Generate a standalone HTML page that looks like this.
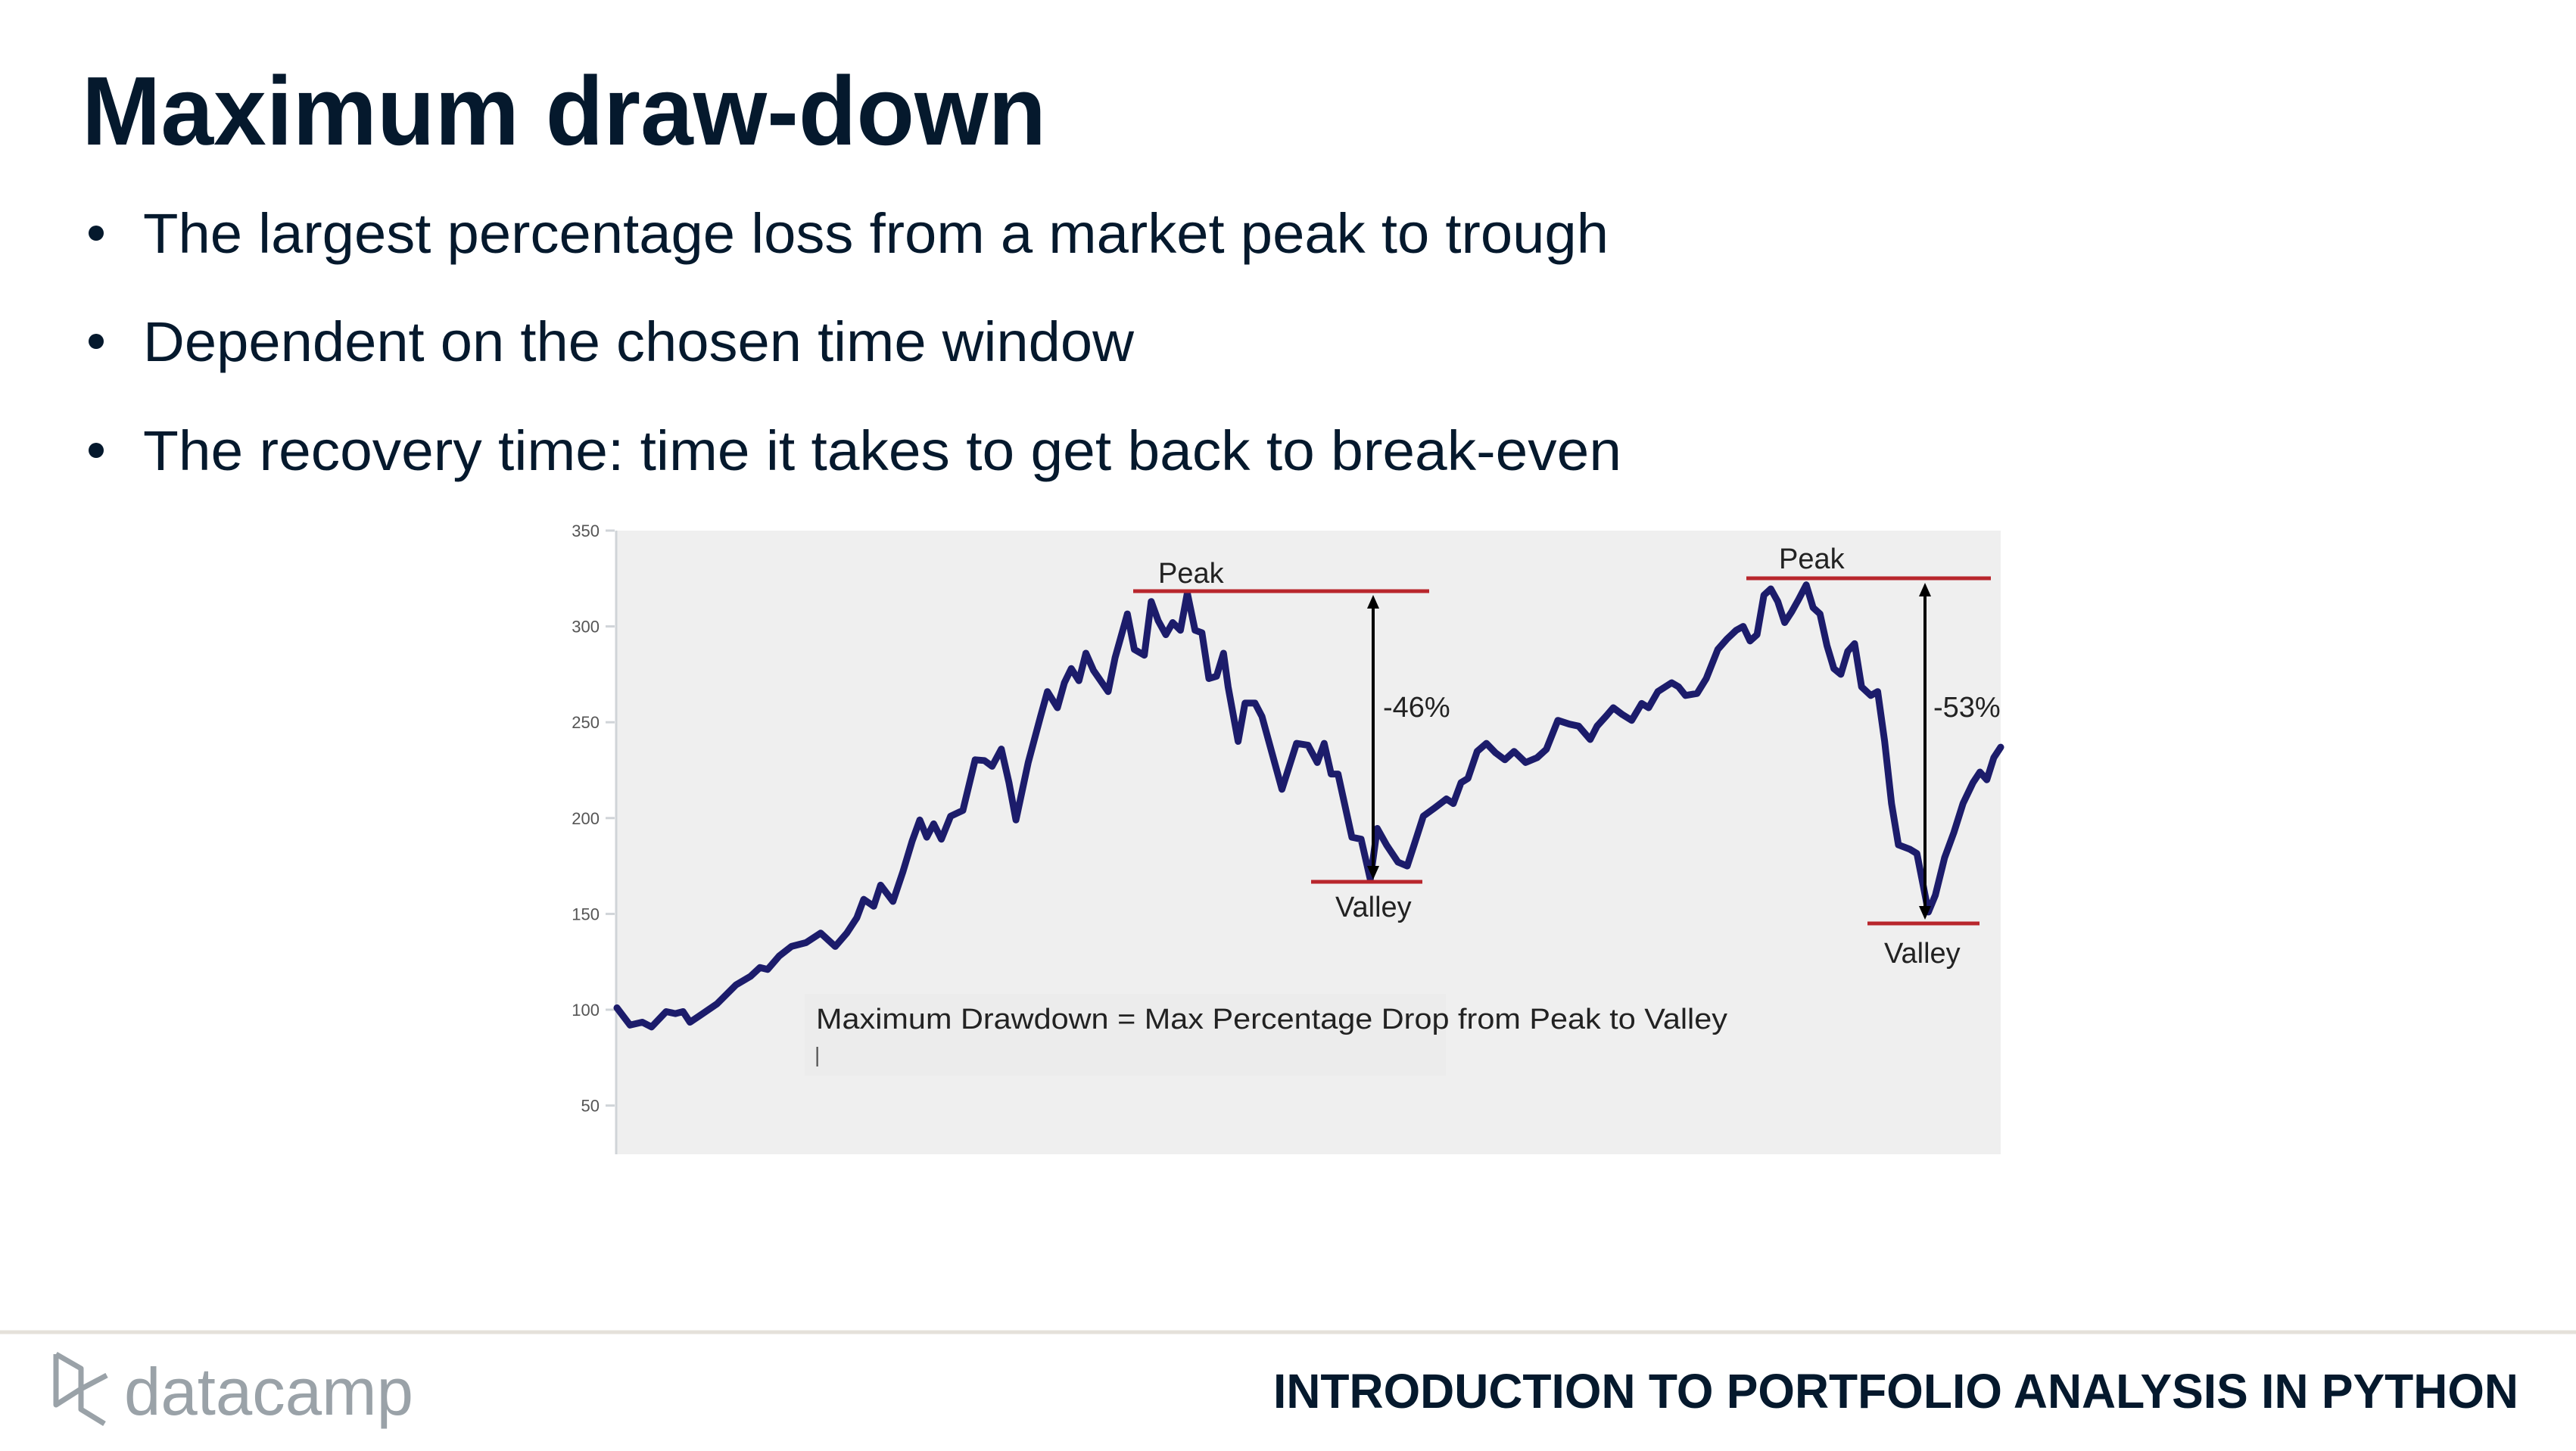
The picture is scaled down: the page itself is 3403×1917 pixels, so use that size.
<!DOCTYPE html>
<html><head><meta charset="utf-8"><style>
html,body{margin:0;padding:0;background:#fff}
svg{display:block}
</style></head><body>
<svg id="slide" width="3403" height="1917" viewBox="0 0 3403 1917" xmlns="http://www.w3.org/2000/svg" font-family="Liberation Sans, Arial, sans-serif">
<rect x="0" y="0" width="3403" height="1917" fill="#ffffff"/>
<text x="108" y="191" font-size="129" font-weight="bold" fill="#05192d" textLength="1274" lengthAdjust="spacingAndGlyphs">Maximum draw-down</text>
<g fill="#05192d" font-size="74">
<circle cx="127" cy="308" r="10"/>
<text x="189" y="334" textLength="1936" lengthAdjust="spacingAndGlyphs">The largest percentage loss from a market peak to trough</text>
<circle cx="127" cy="451" r="10"/>
<text x="189" y="477" textLength="1309" lengthAdjust="spacingAndGlyphs">Dependent on the chosen time window</text>
<circle cx="127" cy="595" r="10"/>
<text x="189" y="621" textLength="1953" lengthAdjust="spacingAndGlyphs">The recovery time: time it takes to get back to break-even</text>
</g>
<g id="chart">
<rect x="814" y="701" width="1829" height="824" fill="#efefef"/>
<rect x="1063" y="1313" width="847" height="108" fill="#ececec"/>
<line x1="814" y1="701" x2="814" y2="1525" stroke="#d0d4d8" stroke-width="3"/>
<g id="yticks"></g>
<polyline id="series" fill="none" stroke="#1c1c6b" stroke-width="9" stroke-linejoin="round" stroke-linecap="round"/>
<g font-size="38" fill="#222">
<line x1="1497" y1="781" x2="1888" y2="781" stroke="#b8262c" stroke-width="5"/>
<line x1="1732" y1="1165" x2="1879" y2="1165" stroke="#b8262c" stroke-width="5"/>
<line x1="1814" y1="800" x2="1814" y2="1148" stroke="#000" stroke-width="4"/>
<polygon points="1814,786 1806,804 1822,804" fill="#000"/>
<polygon points="1814,1162 1806,1144 1822,1144" fill="#000"/>
<text x="1530" y="770">Peak</text>
<text x="1764" y="1211">Valley</text>
<text x="1827" y="947">-46%</text>
<line x1="2307" y1="764" x2="2630" y2="764" stroke="#b8262c" stroke-width="5"/>
<line x1="2467" y1="1220" x2="2615" y2="1220" stroke="#b8262c" stroke-width="5"/>
<line x1="2543" y1="785" x2="2543" y2="1200" stroke="#000" stroke-width="4"/>
<polygon points="2543,770 2535,788 2551,788" fill="#000"/>
<polygon points="2543,1215 2535,1197 2551,1197" fill="#000"/>
<text x="2350" y="751">Peak</text>
<text x="2489" y="1272">Valley</text>
<text x="2554" y="947">-53%</text>
<text x="1078" y="1359" textLength="1204" lengthAdjust="spacingAndGlyphs">Maximum Drawdown = Max Percentage Drop from Peak to Valley</text>
<text x="1076" y="1403" font-size="28" fill="#555">|</text>
</g>
</g>
<line x1="0" y1="1760" x2="3403" y2="1760" stroke="#e5e1da" stroke-width="5"/>
<g>
<path d="M74,1789 L74,1856 L107,1835 M74,1789 L107,1808 L107,1862 L138,1881 M107,1835 L141,1817" fill="none" stroke="#9aa2a8" stroke-width="7" stroke-linejoin="round"/>
<text x="164" y="1869" font-size="88" fill="#9aa2a8" textLength="382" lengthAdjust="spacingAndGlyphs">datacamp</text>
</g>
<text x="1682" y="1860" font-size="64" font-weight="bold" fill="#05192d" textLength="1645" lengthAdjust="spacingAndGlyphs">INTRODUCTION TO PORTFOLIO ANALYSIS IN PYTHON</text>
</svg>
<script>
const months = [0,1.7,3.3,4.5,6.4,7.6,8.6,9.5,10.8,13.0,15.5,17.4,18.6,19.6,21.1,22.7,24.6,26.5,28.4,29.9,31.2,32.1,33.4,34.3,35.9,37.2,38.4,39.4,40.3,41.2,42.2,43.4,45.0,46.6,47.8,48.8,50.0,51.0,51.9,53.5,55.1,56.0,57.3,58.2,59.1,60.1,61.0,62.0,63.9,64.8,66.4,67.3,68.6,69.5,70.4,71.4,72.3,73.3,74.2,75.2,76.1,77.0,78.0,78.9,79.5,80.8,81.7,83.0,83.9,85.2,86.5,88.4,89.9,91.1,92.0,92.9,93.8,95.6,96.8,98.0,98.9,100.1,101.6,102.8,103.7,104.9,106.4,107.9,108.8,109.8,110.7,111.9,113.1,114.3,115.5,116.7,118.2,119.7,120.9,122.4,123.9,125.1,126.6,127.5,128.7,129.6,130.8,132.0,133.3,134.2,135.4,137.2,138.1,139.0,140.5,141.7,143.2,144.4,145.6,146.5,147.4,148.3,149.2,150.1,151.0,151.9,152.8,153.7,154.7,155.6,156.5,157.4,158.3,159.2,160.1,161.0,161.9,163.1,164.0,164.9,165.8,166.7,168.2,169.1,170.6,171.5,172.7,173.9,175.1,176.4,177.3,178.2,179.1,180];
const values = [101,92,93.5,91,99,98,99,93.5,97,103,113,117.5,122,121,128,133,135,140,133,140,148,157.6,154,165,156.5,172,188,199,190,197,189,201,204,230.4,230,227,236,218.5,199,229,253,266,257.6,270.6,278,271.7,286,277,266,283.7,306.5,288,285,313,303,295.7,302,298,317.4,298,296.7,272.8,274,286,268.5,240,260,260,253,234,215,239,238,229,239,223,223,190,189,168,194.6,186,177,175,186,201,205.4,210,207.6,218.5,220.7,234.8,239,234,230.4,234.8,229,231.5,235.9,251,249,248,241,248,253.3,257.6,254,251,259.8,257.6,266,270.6,268.5,264,265,272.8,288,293.5,298,300,292.4,295.7,316.3,319.6,313,302,307.6,314,321.7,309.8,306.5,290,278,275,287,291,268.5,264,266,240,207.6,186,183.7,181.5,151,159.8,179.3,192.4,207.6,218.5,224,220,231.5,237];
const yTicks = [350,300,250,200,150,100,50];
const xDomain = [0,180];
const yDomain = [350,50];

const NS = 'http://www.w3.org/2000/svg';
function xScale(m){ return 815 + (m - xDomain[0]) / (xDomain[1] - xDomain[0]) * 1828; }
function yScale(v){ return 701 + (yDomain[0] - v) / (yDomain[0] - yDomain[1]) * 759.6; }

const pts = months.map((m,i) => xScale(m).toFixed(1) + ',' + yScale(values[i]).toFixed(1)).join(' ');
document.getElementById('series').setAttribute('points', pts);

const tg = document.getElementById('yticks');
yTicks.forEach(t => {
  const y = yScale(t);
  const ln = document.createElementNS(NS,'line');
  
  
  ln.setAttribute('x1', 800); ln.setAttribute('x2', 812);
  ln.setAttribute('y1', y); ln.setAttribute('y2', y);
  ln.setAttribute('stroke', '#d0d4d8'); ln.setAttribute('stroke-width', '3');
  tg.appendChild(ln);
  const tx = document.createElementNS(NS,'text');
  
  
  tx.setAttribute('x', 792); tx.setAttribute('y', y + 8);
  tx.setAttribute('text-anchor', 'end');
  tx.setAttribute('font-size', '22');
  tx.setAttribute('fill', '#555');
  tx.textContent = t;
  tg.appendChild(tx);
});
</script>
</body></html>
